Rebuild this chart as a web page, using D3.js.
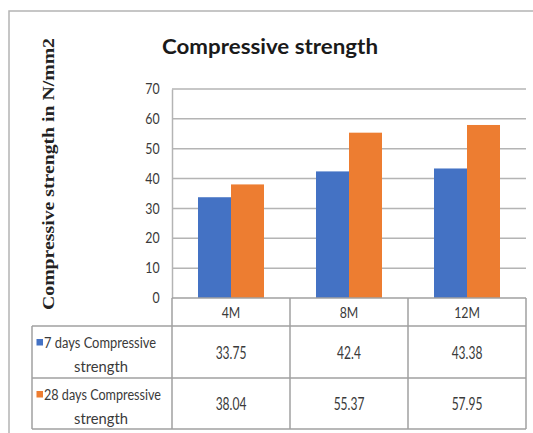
<!DOCTYPE html>
<html><head><meta charset="utf-8">
<script src="https://cdn.jsdelivr.net/npm/d3@7"></script>
<style>body{margin:0;background:#fff;}svg{display:block;}</style>
</head><body>
<svg id="c" width="533" height="433"></svg>
<script>
const categories = ["4M", "8M", "12M"];
const seriesNames = ["7 days Compressive strength", "28 days Compressive strength"];
const legendLines = [["7 days Compressive", "strength"], ["28 days Compressive", "strength"]];
const values7 = [33.75, 42.4, 43.38];
const values28 = [38.04, 55.37, 57.95];
const valueLabels7 = ["33.75", "42.4", "43.38"];
const valueLabels28 = ["38.04", "55.37", "57.95"];
const yTicks = [0, 10, 20, 30, 40, 50, 60, 70];
const colors = ["#4472C4", "#ED7D31"];
const title = "Compressive strength";
const yTitle = "Compressive strength in N/mm2";

const series = [values7, values28];
const seriesLabels = [valueLabels7, valueLabels28];

const svg = d3.select("#c");
const sans = "Lato, 'Open Sans', sans-serif";
const L = 172, R = 526, T = 89, B = 298;
const tableLeft = 32, rowTops = [298, 326, 378, 429];
const textCol = "#3a3a3a";

function stretchText(g, x, y, str, size, sx, sy, anchor) {
  return g.append("text")
    .attr("transform", `translate(${x},${y}) scale(${sx},${sy})`)
    .attr("text-anchor", anchor || "middle")
    .attr("font-family", sans).attr("font-size", size)
    .attr("fill", textCol).text(str);
}

// outer frame
svg.append("rect").attr("x", 9).attr("y", 11).attr("width", 540).attr("height", 440)
  .attr("fill", "none").attr("stroke", "#b4b4b4").attr("stroke-width", 1.5);

const x = d3.scaleBand().domain(categories).range([L, R]);
const y = d3.scaleLinear().domain([0, 70]).range([B, T]);

// gridlines
svg.append("g").selectAll("line").data(yTicks.filter(d => d > 0)).join("line")
  .attr("x1", L).attr("x2", R).attr("y1", d => y(d)).attr("y2", d => y(d))
  .attr("stroke", "#b4b4b4").attr("stroke-width", 1.5);

// y axis
const yAxis = d3.axisLeft(y).tickValues(yTicks).tickSize(0).tickPadding(13);
const gy = svg.append("g").attr("transform", `translate(${L},0)`).call(yAxis);
gy.select(".domain").attr("stroke", "#b4b4b4").attr("stroke-width", 1.5);
gy.selectAll(".tick text").attr("font-family", sans).attr("font-size", 13).attr("fill", textCol)
  .attr("transform", "scale(0.95,1.12)").attr("dy", "0.32em");

// bars
const inner = d3.scaleBand().domain([0, 1]).range([0, 66]);
categories.forEach((c, i) => {
  series.forEach((s, j) => {
    svg.append("rect")
      .attr("x", x(c) + x.bandwidth() / 2 - 33 + inner(j))
      .attr("y", y(s[i]))
      .attr("width", inner.bandwidth())
      .attr("height", y(0) - y(s[i]))
      .attr("fill", colors[j]);
  });
});

// title
svg.append("text").attr("x", 270).attr("y", 54).attr("text-anchor", "middle")
  .attr("font-family", sans).attr("font-weight", "bold").attr("font-size", 21)
  .attr("fill", "#1a1a1a").attr("textLength", 216).attr("lengthAdjust", "spacingAndGlyphs")
  .text(title);

// y title
svg.append("text").attr("transform", "translate(54,174) rotate(-90)")
  .attr("text-anchor", "middle").attr("font-family", "'Liberation Serif', 'Times New Roman', serif")
  .attr("font-weight", "bold").attr("font-size", 17).attr("fill", "#222")
  .attr("textLength", 272).attr("lengthAdjust", "spacingAndGlyphs")
  .text(yTitle);

// table
const tg = svg.append("g");
const stroke = "#a0a0a0";
tg.append("line").attr("x1", L).attr("x2", R).attr("y1", rowTops[0]).attr("y2", rowTops[0]).attr("stroke", stroke).attr("stroke-width", 1.5);
[1, 2, 3].forEach(k => {
  tg.append("line").attr("x1", tableLeft).attr("x2", R).attr("y1", rowTops[k]).attr("y2", rowTops[k]).attr("stroke", stroke).attr("stroke-width", 1.5);
});
tg.append("line").attr("x1", tableLeft).attr("x2", tableLeft).attr("y1", rowTops[1]).attr("y2", rowTops[3]).attr("stroke", stroke).attr("stroke-width", 1.5);
categories.forEach(c => {
  tg.append("line").attr("x1", x(c)).attr("x2", x(c)).attr("y1", rowTops[0]).attr("y2", rowTops[3]).attr("stroke", stroke).attr("stroke-width", 1.5);
});
tg.append("line").attr("x1", R).attr("x2", R).attr("y1", rowTops[0]).attr("y2", rowTops[3]).attr("stroke", stroke).attr("stroke-width", 1.5);

// category labels
categories.forEach(c => {
  stretchText(tg, x(c) + x.bandwidth() / 2, 318, c, 13, 0.95, 1.18);
});

// value cells and legend
series.forEach((s, j) => {
  const cy = (rowTops[j + 1] + rowTops[j + 2]) / 2;
  categories.forEach((c, i) => {
    stretchText(tg, x(c) + x.bandwidth() / 2, cy + 6.5, seriesLabels[j][i], 14, 0.86, 1.24);
  });
  const top = rowTops[j + 1];
  tg.append("rect").attr("x", 36.5).attr("y", top + 13).attr("width", 6.5).attr("height", 6.5).attr("fill", colors[j]);
  tg.append("text").attr("x", 44).attr("y", top + 21.5).attr("font-family", sans).attr("font-size", 14.5)
    .attr("fill", textCol).attr("textLength", j === 0 ? 112 : 117).attr("lengthAdjust", "spacingAndGlyphs")
    .text(legendLines[j][0]);
  tg.append("text").attr("x", 101).attr("y", top + 46).attr("text-anchor", "middle").attr("font-family", sans).attr("font-size", 14.5)
    .attr("fill", textCol).attr("textLength", 54).attr("lengthAdjust", "spacingAndGlyphs")
    .text(legendLines[j][1]);
});
</script>
</body></html>
